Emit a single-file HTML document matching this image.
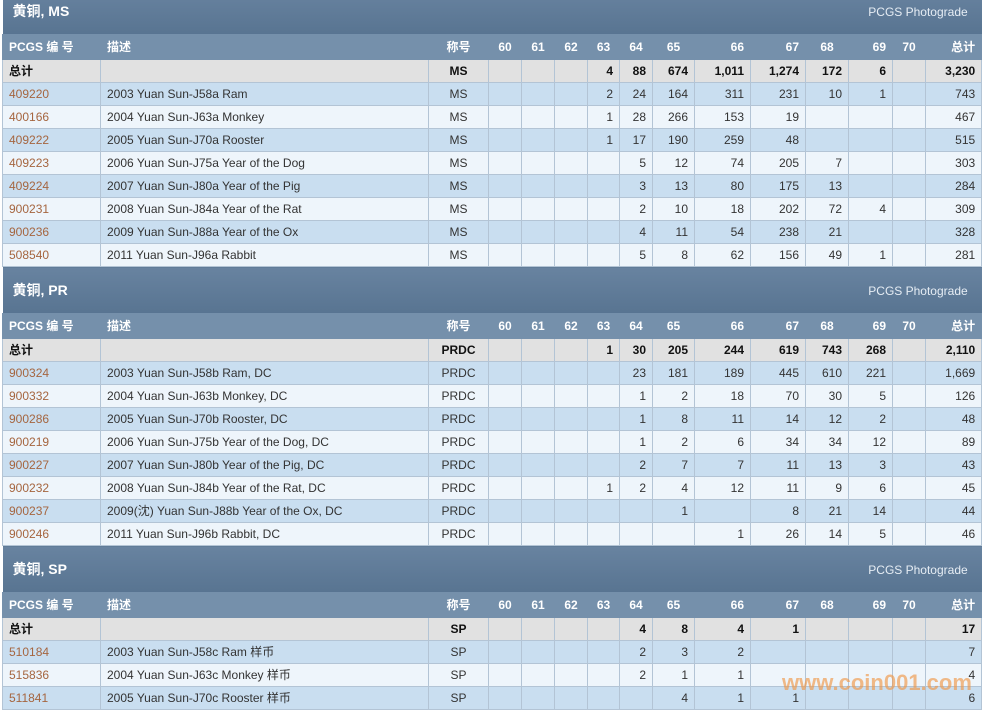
<!DOCTYPE html>
<html><head><meta charset="utf-8"><style>
body{margin:0;width:983px;height:711px;overflow:hidden;background:#fff;font-family:"Liberation Sans","Noto Sans CJK SC",sans-serif;font-size:12px;color:#333;position:relative}
table{position:absolute;left:2px;top:-13px;border-collapse:collapse;table-layout:fixed;width:979px}
td{border:1px solid #b3c4d5;padding:0 6px;height:22px;line-height:14px;white-space:nowrap;overflow:hidden;text-align:right}
tr.s td{height:46px;background:linear-gradient(#6883a0,#587491);color:#fff;font-weight:bold;font-size:14px;text-align:left;border:none;border-top:1px solid #fff;padding-left:10px}
tr.s td span{float:right;font-weight:normal;font-size:12px;color:#e6edf4;padding-right:8px;margin-top:1px}
tr.h td{height:24px;background:#7590ab;color:#fff;font-weight:bold;text-align:center;border-color:#7590ab}
tr.h td.l{text-align:left}tr.h td.r{text-align:right}
tr.t td{background:#e1e1e1;font-weight:bold;color:#111}
tr.a td{background:#c9def0}tr.b td{background:#eef5fb}
td.l{text-align:left}td.c{text-align:center}
a{color:#a5653f;text-decoration:none}
.wm{position:absolute;left:782px;top:670px;font-size:22px;font-weight:bold;color:rgba(240,150,70,.65)}
</style></head><body>
<table>
<colgroup><col style="width:98px"><col style="width:328px"><col style="width:60px"><col style="width:33px"><col style="width:33px"><col style="width:33px"><col style="width:32px"><col style="width:33px"><col style="width:42px"><col style="width:56px"><col style="width:55px"><col style="width:43px"><col style="width:44px"><col style="width:33px"><col style="width:56px"></colgroup>
<tr class="s"><td colspan="15"><span>PCGS Photograde</span>黄铜, MS</td></tr>
<tr class="h"><td class="l">PCGS 编 号</td><td class="l">描述</td><td>称号</td><td>60</td><td>61</td><td>62</td><td>63</td><td>64</td><td>65</td><td class="r">66</td><td class="r">67</td><td>68</td><td class="r">69</td><td>70</td><td class="r">总计</td></tr>
<tr class="t"><td class="l">总计</td><td></td><td class="c">MS</td><td></td><td></td><td></td><td>4</td><td>88</td><td>674</td><td>1,011</td><td>1,274</td><td>172</td><td>6</td><td></td><td>3,230</td></tr>
<tr class="a"><td class="l"><a>409220</a></td><td class="l">2003 Yuan Sun-J58a Ram</td><td class="c">MS</td><td></td><td></td><td></td><td>2</td><td>24</td><td>164</td><td>311</td><td>231</td><td>10</td><td>1</td><td></td><td>743</td></tr>
<tr class="b"><td class="l"><a>400166</a></td><td class="l">2004 Yuan Sun-J63a Monkey</td><td class="c">MS</td><td></td><td></td><td></td><td>1</td><td>28</td><td>266</td><td>153</td><td>19</td><td></td><td></td><td></td><td>467</td></tr>
<tr class="a"><td class="l"><a>409222</a></td><td class="l">2005 Yuan Sun-J70a Rooster</td><td class="c">MS</td><td></td><td></td><td></td><td>1</td><td>17</td><td>190</td><td>259</td><td>48</td><td></td><td></td><td></td><td>515</td></tr>
<tr class="b"><td class="l"><a>409223</a></td><td class="l">2006 Yuan Sun-J75a Year of the Dog</td><td class="c">MS</td><td></td><td></td><td></td><td></td><td>5</td><td>12</td><td>74</td><td>205</td><td>7</td><td></td><td></td><td>303</td></tr>
<tr class="a"><td class="l"><a>409224</a></td><td class="l">2007 Yuan Sun-J80a Year of the Pig</td><td class="c">MS</td><td></td><td></td><td></td><td></td><td>3</td><td>13</td><td>80</td><td>175</td><td>13</td><td></td><td></td><td>284</td></tr>
<tr class="b"><td class="l"><a>900231</a></td><td class="l">2008 Yuan Sun-J84a Year of the Rat</td><td class="c">MS</td><td></td><td></td><td></td><td></td><td>2</td><td>10</td><td>18</td><td>202</td><td>72</td><td>4</td><td></td><td>309</td></tr>
<tr class="a"><td class="l"><a>900236</a></td><td class="l">2009 Yuan Sun-J88a Year of the Ox</td><td class="c">MS</td><td></td><td></td><td></td><td></td><td>4</td><td>11</td><td>54</td><td>238</td><td>21</td><td></td><td></td><td>328</td></tr>
<tr class="b"><td class="l"><a>508540</a></td><td class="l">2011 Yuan Sun-J96a Rabbit</td><td class="c">MS</td><td></td><td></td><td></td><td></td><td>5</td><td>8</td><td>62</td><td>156</td><td>49</td><td>1</td><td></td><td>281</td></tr>
<tr class="s"><td colspan="15"><span>PCGS Photograde</span>黄铜, PR</td></tr>
<tr class="h"><td class="l">PCGS 编 号</td><td class="l">描述</td><td>称号</td><td>60</td><td>61</td><td>62</td><td>63</td><td>64</td><td>65</td><td class="r">66</td><td class="r">67</td><td>68</td><td class="r">69</td><td>70</td><td class="r">总计</td></tr>
<tr class="t"><td class="l">总计</td><td></td><td class="c">PRDC</td><td></td><td></td><td></td><td>1</td><td>30</td><td>205</td><td>244</td><td>619</td><td>743</td><td>268</td><td></td><td>2,110</td></tr>
<tr class="a"><td class="l"><a>900324</a></td><td class="l">2003 Yuan Sun-J58b Ram, DC</td><td class="c">PRDC</td><td></td><td></td><td></td><td></td><td>23</td><td>181</td><td>189</td><td>445</td><td>610</td><td>221</td><td></td><td>1,669</td></tr>
<tr class="b"><td class="l"><a>900332</a></td><td class="l">2004 Yuan Sun-J63b Monkey, DC</td><td class="c">PRDC</td><td></td><td></td><td></td><td></td><td>1</td><td>2</td><td>18</td><td>70</td><td>30</td><td>5</td><td></td><td>126</td></tr>
<tr class="a"><td class="l"><a>900286</a></td><td class="l">2005 Yuan Sun-J70b Rooster, DC</td><td class="c">PRDC</td><td></td><td></td><td></td><td></td><td>1</td><td>8</td><td>11</td><td>14</td><td>12</td><td>2</td><td></td><td>48</td></tr>
<tr class="b"><td class="l"><a>900219</a></td><td class="l">2006 Yuan Sun-J75b Year of the Dog, DC</td><td class="c">PRDC</td><td></td><td></td><td></td><td></td><td>1</td><td>2</td><td>6</td><td>34</td><td>34</td><td>12</td><td></td><td>89</td></tr>
<tr class="a"><td class="l"><a>900227</a></td><td class="l">2007 Yuan Sun-J80b Year of the Pig, DC</td><td class="c">PRDC</td><td></td><td></td><td></td><td></td><td>2</td><td>7</td><td>7</td><td>11</td><td>13</td><td>3</td><td></td><td>43</td></tr>
<tr class="b"><td class="l"><a>900232</a></td><td class="l">2008 Yuan Sun-J84b Year of the Rat, DC</td><td class="c">PRDC</td><td></td><td></td><td></td><td>1</td><td>2</td><td>4</td><td>12</td><td>11</td><td>9</td><td>6</td><td></td><td>45</td></tr>
<tr class="a"><td class="l"><a>900237</a></td><td class="l">2009(沈) Yuan Sun-J88b Year of the Ox, DC</td><td class="c">PRDC</td><td></td><td></td><td></td><td></td><td></td><td>1</td><td></td><td>8</td><td>21</td><td>14</td><td></td><td>44</td></tr>
<tr class="b"><td class="l"><a>900246</a></td><td class="l">2011 Yuan Sun-J96b Rabbit, DC</td><td class="c">PRDC</td><td></td><td></td><td></td><td></td><td></td><td></td><td>1</td><td>26</td><td>14</td><td>5</td><td></td><td>46</td></tr>
<tr class="s"><td colspan="15"><span>PCGS Photograde</span>黄铜, SP</td></tr>
<tr class="h"><td class="l">PCGS 编 号</td><td class="l">描述</td><td>称号</td><td>60</td><td>61</td><td>62</td><td>63</td><td>64</td><td>65</td><td class="r">66</td><td class="r">67</td><td>68</td><td class="r">69</td><td>70</td><td class="r">总计</td></tr>
<tr class="t"><td class="l">总计</td><td></td><td class="c">SP</td><td></td><td></td><td></td><td></td><td>4</td><td>8</td><td>4</td><td>1</td><td></td><td></td><td></td><td>17</td></tr>
<tr class="a"><td class="l"><a>510184</a></td><td class="l">2003 Yuan Sun-J58c Ram 样币</td><td class="c">SP</td><td></td><td></td><td></td><td></td><td>2</td><td>3</td><td>2</td><td></td><td></td><td></td><td></td><td>7</td></tr>
<tr class="b"><td class="l"><a>515836</a></td><td class="l">2004 Yuan Sun-J63c Monkey 样币</td><td class="c">SP</td><td></td><td></td><td></td><td></td><td>2</td><td>1</td><td>1</td><td></td><td></td><td></td><td></td><td>4</td></tr>
<tr class="a"><td class="l"><a>511841</a></td><td class="l">2005 Yuan Sun-J70c Rooster 样币</td><td class="c">SP</td><td></td><td></td><td></td><td></td><td></td><td>4</td><td>1</td><td>1</td><td></td><td></td><td></td><td>6</td></tr>
</table>
<div class="wm">www.coin001.com</div>
</body></html>
